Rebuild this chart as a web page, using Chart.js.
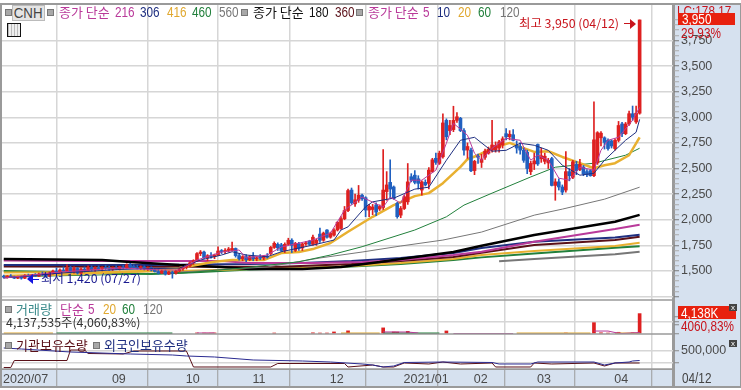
<!DOCTYPE html>
<html>
<head>
<meta charset="utf-8">
<title>CNH</title>
<script src="https://cdn.jsdelivr.net/npm/chart.js@4/dist/chart.umd.min.js"></script>
<style>
  html, body { margin: 0; padding: 0; background: #fff; overflow: hidden; }
  #wrap { position: relative; width: 741px; height: 390px; font: 14px "Liberation Sans", "Noto Sans CJK KR", sans-serif; }
  #wrap span, #wrap i { position: absolute; white-space: pre; line-height: 14px; font-style: normal; font-weight: normal; }
  .n { transform: scaleX(.84); transform-origin: left center; }
  .ko { font-family: "Noto Sans CJK KR", sans-serif; font-size: 13px; }
  .note { font-size: 12.4px; }
  .mark { width: 5px; height: 5px; background: #a8a8a8; border: 1px solid #777; }
  .box { background: #e8210f; color: #fff; }
  .boxtext { color: #fff; }
</style>
</head>
<body>
<div id="wrap">
  <canvas id="stockChart" width="741" height="390"></canvas>

  <i class="mark" style="left:5px;top:9px"></i>
  <span style="left:12px;top:5px;width:31px;height:14px;background:#e4e4e4;border:1px solid #bbb;text-align:center;color:#444"><b style="font-weight:normal;display:inline-block;transform:scaleX(.95)">CNH</b></span>
  <i class="mark" style="left:47px;top:9px"></i>
  <span class="ko" style="left:59px;top:5px;color:#b93a9a">종가 단순</span>
  <span class="n" style="left:115px;top:5px;color:#b93a9a">216</span>
  <span class="n" style="left:140px;top:5px;color:#1f2f80">306</span>
  <span class="n" style="left:167px;top:5px;color:#e0a830">416</span>
  <span class="n" style="left:192px;top:5px;color:#22803c">460</span>
  <span class="n" style="left:219px;top:5px;color:#777">560</span>
  <i class="mark" style="left:241px;top:9px"></i>
  <span class="ko" style="left:253px;top:5px;color:#111">종가 단순</span>
  <span class="n" style="left:309px;top:5px;color:#111">180</span>
  <span class="n" style="left:335px;top:5px;color:#5a1018">360</span>
  <i class="mark" style="left:356px;top:9px"></i>
  <span class="ko" style="left:368px;top:5px;color:#b93a9a">종가 단순</span>
  <span class="n" style="left:423px;top:5px;color:#b93a9a">5</span>
  <span class="n" style="left:437px;top:5px;color:#1f2f80">10</span>
  <span class="n" style="left:458px;top:5px;color:#e0a830">20</span>
  <span class="n" style="left:478px;top:5px;color:#22803c">60</span>
  <span class="n" style="left:500px;top:5px;color:#777">120</span>
  <i style="left:7px;top:23px;width:12px;height:12px;border:1px solid #111;background:repeating-linear-gradient(90deg,#bbb 0 1px,#eee 1px 3px)"></i>

  <span class="ko note" style="left:519px;top:16px;color:#c8141c">최고 3,950 (04/12)</span>
  <i style="left:624px;top:23px;width:6px;height:1px;background:#c8141c"></i>
  <i style="left:630px;top:19px;border-left:6px solid #c8141c;border-top:5px solid transparent;border-bottom:5px solid transparent"></i>
  <i style="left:27px;top:274px;border-right:6px solid #1414e0;border-top:5px solid transparent;border-bottom:5px solid transparent"></i>
  <i style="left:33px;top:279px;width:6px;height:1px;background:#1414e0"></i>
  <span class="ko note" style="left:41px;top:271px;color:#1a1a90">최저 1,420 (07/27)</span>

  <span class="n" style="left:677px;top:4px;color:#c8141c">LC:178.17</span>
  <i class="box" style="left:678px;top:13px;width:57px;height:12px"></i>
  <span class="n boxtext" style="left:682px;top:12px">3,950</span>
  <span class="n" style="left:681px;top:26px;color:#c8141c">29.93%</span>

  <i class="mark" style="left:5px;top:306px"></i>
  <span class="ko" style="left:16px;top:302px;color:#3a8a8a">거래량</span>
  <span class="ko" style="left:60px;top:302px;color:#b93a9a">단순</span>
  <span class="n" style="left:88px;top:302px;color:#b93a9a">5</span>
  <span class="n" style="left:103px;top:302px;color:#e0a830">20</span>
  <span class="n" style="left:122px;top:302px;color:#22803c">60</span>
  <span class="n" style="left:143px;top:302px;color:#777">120</span>
  <span class="ko note" style="left:6px;top:315px;color:#333">4,137,535주(4,060,83%)</span>
  <i class="box" style="left:678px;top:306px;width:58px;height:13px"></i>
  <span class="n boxtext" style="left:681px;top:306px">4,138K</span>
  <span class="n" style="left:681px;top:319px;color:#c8141c">4060,83%</span>
  <span style="left:729px;top:304px;width:8px;height:7px;line-height:7px;font-size:8px;text-align:center;background:#444;color:#fff">x</span>

  <i class="mark" style="left:5px;top:342px"></i>
  <span class="ko" style="left:16px;top:338px;color:#5a1018">기관보유수량</span>
  <i class="mark" style="left:93px;top:342px"></i>
  <span class="ko" style="left:104px;top:338px;color:#1f2f80">외국인보유수량</span>
  <span style="left:729px;top:340px;width:8px;height:7px;line-height:7px;font-size:8px;text-align:center;background:#444;color:#fff">x</span>

  <span class="n" style="left:682px;top:371px;color:#444">04/12</span>
</div>

<script>
// daily candles, 2020/07 .. 2021/04/12
const opens = [
  1450,1440,1450,1440,1430,1445,1430,1455,1445,1460,
  1450,1470,1460,1450,1480,1500,1490,1510,1500,1530,
  1490,1525,1480,1520,1500,1535,1510,1530,1520,1535,
  1525,1515,1530,1520,1540,1530,1560,1540,1535,1525,
  1540,1520,1530,1510,1495,1480,1500,1470,1490,1480,
  1500,1520,1535,1550,1580,1600,1670,1685,1630,1650,
  1640,1655,1695,1690,1700,1700,1720,1650,1620,1640,
  1610,1640,1620,1630,1625,1645,1670,1730,1760,1755,
  1700,1760,1800,1700,1765,1725,1765,1790,1760,1770,
  1860,1800,1900,1830,1850,1900,1915,2010,2090,2290,
  2155,2190,2240,2215,2095,2100,2145,2105,2120,2275,
  2365,2320,2160,2045,2110,2175,2420,2435,2400,2290,
  2365,2355,2470,2600,2550,2615,2970,2870,2880,2970,
  2990,2870,2680,2680,2480,2620,2560,2610,2650,2680,
  2680,2700,2730,2840,2810,2830,2725,2715,2680,2660,
  2470,2545,2735,2595,2570,2555,2597,2335,2370,2320,
  2290,2470,2415,2540,2490,2515,2470,2480,2430,2555,
  2800,2800,2775,2770,2695,2775,2935,2840,2935,3035,
  2955,3040
];
const highs = [
  1460,1455,1465,1450,1450,1450,1465,1470,1465,1475,
  1480,1490,1480,1490,1510,1530,1520,1540,1560,1545,
  1540,1535,1530,1540,1550,1550,1540,1550,1540,1555,
  1545,1540,1550,1545,1555,1570,1575,1560,1555,1550,
  1550,1540,1540,1525,1515,1510,1510,1500,1500,1510,
  1530,1545,1560,1590,1610,1680,1700,1695,1660,1680,
  1665,1735,1710,1720,1730,1782,1725,1670,1650,1660,
  1650,1680,1640,1660,1650,1670,1740,1785,1775,1770,
  1775,1820,1815,1780,1780,1775,1790,1800,1850,1810,
  1920,1880,1905,1880,1915,1985,2030,2130,2300,2310,
  2250,2335,2250,2225,2150,2150,2165,2145,2685,2470,
  2585,2330,2170,2130,2240,2549,2450,2480,2430,2380,
  2390,2510,2600,2650,2670,3035,2985,2970,3108,3045,
  3000,2890,2750,2700,2580,2640,2640,2690,2710,2970,
  2760,2775,2810,2890,2870,2880,2770,2750,2700,2680,
  2570,2650,2740,2700,2650,2600,2610,2400,2400,2340,
  2665,2500,2580,2570,2590,2530,2490,2490,3150,2860,
  2860,2810,2790,2780,2790,2960,2950,2950,3060,3110,
  3110,3950
];
const lows = [
  1430,1430,1435,1425,1425,1420,1425,1440,1435,1445,
  1445,1455,1440,1445,1470,1480,1475,1495,1490,1480,
  1480,1470,1470,1490,1495,1500,1495,1510,1500,1515,
  1505,1505,1515,1510,1520,1525,1530,1530,1520,1515,
  1510,1505,1500,1490,1470,1475,1460,1465,1430,1470,
  1490,1505,1520,1540,1565,1590,1650,1620,1600,1625,
  1620,1650,1670,1670,1685,1695,1635,1605,1600,1590,
  1600,1600,1600,1610,1610,1625,1660,1720,1700,1690,
  1680,1750,1680,1690,1700,1700,1750,1750,1750,1750,
  1780,1790,1820,1820,1840,1890,1905,2000,2080,2150,
  2130,2170,2190,2030,2030,2050,2040,2090,2100,2190,
  2210,2200,2015,2020,2100,2150,2370,2350,2300,2240,
  2330,2300,2460,2540,2540,2600,2780,2830,2860,2950,
  2860,2630,2600,2470,2440,2550,2510,2590,2640,2660,
  2660,2660,2700,2780,2780,2770,2650,2640,2560,2450,
  2440,2490,2530,2560,2545,2500,2330,2190,2290,2245,
  2270,2380,2400,2440,2480,2430,2420,2425,2420,2540,
  2720,2690,2680,2700,2680,2760,2810,2830,2920,2970,
  2940,3030
];
const closes = [
  1440,1450,1440,1430,1445,1430,1455,1445,1460,1450,
  1470,1460,1450,1480,1500,1490,1510,1500,1530,1490,
  1525,1480,1520,1500,1535,1510,1530,1520,1535,1525,
  1515,1530,1520,1540,1530,1560,1540,1535,1525,1540,
  1520,1530,1510,1495,1480,1500,1470,1490,1480,1500,
  1520,1535,1550,1580,1600,1670,1685,1630,1650,1640,
  1655,1695,1690,1700,1715,1720,1650,1620,1640,1610,
  1640,1620,1630,1625,1645,1635,1730,1770,1725,1700,
  1760,1800,1750,1770,1720,1765,1775,1760,1830,1800,
  1800,1870,1830,1870,1900,1975,2010,2090,2285,2165,
  2195,2240,2205,2095,2130,2125,2075,2130,2290,2340,
  2300,2205,2030,2110,2225,2370,2385,2365,2355,2370,
  2340,2485,2585,2560,2650,2945,2810,2920,2970,3005,
  2870,2680,2715,2478,2570,2610,2590,2670,2690,2730,
  2725,2760,2790,2810,2835,2775,2700,2680,2580,2500,
  2550,2575,2545,2625,2620,2580,2335,2370,2320,2270,
  2470,2430,2565,2480,2540,2450,2440,2430,2780,2850,
  2845,2755,2695,2720,2775,2920,2840,2935,3035,3000,
  3040,3950
];

// moving averages as [day, value] at the turning points
const ma5 = [[0,1432],[16,1490],[33,1529],[45,1510],[50,1510],[55,1607],[62,1685],[67,1705],[69,1627],[75,1656],[79,1734],[88,1802],[93,1870],[97,2094],[102,2221],[105,2172],[108,2123],[110,2221],[113,2162],[116,2386],[119,2386],[123,2484],[126,2747],[128,2942],[132,2825],[134,2649],[136,2581],[139,2698],[143,2795],[147,2776],[150,2581],[152,2630],[155,2581],[158,2406],[161,2386],[164,2513],[168,2484],[170,2678],[172,2776],[175,2805],[179,2971],[181,3097]];
const ma10 = [[0,1432],[16,1480],[33,1515],[50,1529],[56,1607],[62,1656],[65,1688],[69,1656],[75,1639],[79,1688],[88,1753],[94,1802],[96,1900],[98,1931],[103,2126],[105,2175],[111,2211],[117,2299],[121,2318],[126,2581],[130,2776],[134,2805],[139,2669],[143,2678],[147,2747],[151,2727],[155,2678],[159,2532],[164,2435],[168,2454],[171,2581],[177,2776],[180,2854],[181,2980]];
const ma20 = [[0,1451],[20,1471],[40,1500],[50,1529],[60,1590],[65,1607],[74,1607],[79,1675],[84,1685],[88,1714],[93,1773],[98,1883],[105,2029],[111,2143],[117,2231],[121,2260],[125,2357],[130,2516],[132,2591],[135,2630],[139,2698],[144,2750],[147,2711],[151,2662],[155,2669],[159,2613],[163,2565],[168,2503],[171,2532],[174,2552],[178,2630],[181,2805]];
const ma60 = [[0,1442],[50,1478],[68,1529],[84,1590],[93,1656],[102,1737],[117,1900],[126,2029],[131,2143],[139,2260],[150,2418],[157,2513],[168,2552],[177,2630],[181,2698]];
const ma120 = [[50,1490],[75,1539],[90,1627],[102,1685],[113,1744],[125,1802],[136,1880],[151,2045],[159,2104],[171,2201],[181,2318]];
const ma180 = [[0,1617],[28,1607],[36,1588],[50,1558],[62,1539],[70,1519],[85,1519],[96,1539],[107,1588],[113,1617],[128,1685],[136,1746],[151,1851],[174,1980],[181,2048]];
const ma216 = [[0,1602],[28,1597],[50,1597],[62,1597],[70,1578],[88,1578],[102,1588],[113,1607],[128,1656],[136,1688],[151,1785],[174,1909],[181,1951]];
const ma306 = [[0,1558],[42,1558],[70,1568],[85,1578],[99,1597],[113,1627],[128,1675],[136,1724],[151,1785],[174,1828],[181,1854]];
const ma360 = [[0,1544],[42,1542],[79,1542],[99,1568],[113,1597],[128,1636],[136,1678],[151,1753],[174,1802],[181,1834]];
const ma416 = [[0,1485],[28,1490],[50,1500],[70,1519],[85,1529],[99,1549],[113,1578],[128,1617],[136,1656],[151,1695],[174,1743],[181,1776]];
const ma460 = [[0,1500],[42,1471],[56,1490],[70,1515],[85,1529],[99,1544],[113,1568],[128,1607],[136,1633],[151,1672],[174,1727],[181,1741]];
const ma560 = [[141,1594],[151,1617],[174,1663],[181,1688]];

// volume in thousands, only the bars tall enough to read
const volumes = [[55,220],[57,200],[58,180],[59,200],[60,220],[77,200],[88,240],[90,200],[92,200],[94,420],[98,640],[108,1240],[111,420],[112,400],[115,540],[126,620],[160,200],[168,2300],[170,250],[172,200],[175,350],[179,250],[181,4138]];
const volMa5 = [[55,200],[60,200],[61,null],[108,420],[115,400],[118,200],[119,null],[128,100],[145,100],[146,null],[168,600],[172,600],[174,300],[176,100],[181,300]];
const volMa20 = [[0,100],[14,100],[15,null],[96,100],[107,100],[108,null],[146,100],[167,100],[168,null],[174,100],[181,100]];
const volMa60 = [[15,100],[48,100],[49,null],[108,100],[124,100]];

// holding quantities as [day, shares]
const institutionHold = [[0,156300],[2,156300],[3,302000],[18,302000],[19,520800],[23,520800],[24,448000],[34,437500],[37,500000],[52,500000],[54,166700],[76,166700],[78,239600],[97,239600],[98,166700],[105,208300],[108,166700],[111,166700],[114,250000],[121,229200],[125,270800],[130,229200],[139,250000],[140,166700],[150,166700],[151,250000],[156,229200],[168,250000],[171,187500],[174,250000],[181,250000]];
const foreignHold = [[0,562500],[5,541700],[19,479200],[36,437500],[48,416700],[52,395800],[60,375000],[71,312500],[85,291700],[93,270800],[102,229200],[105,208300],[108,166700],[111,187500],[114,260400],[125,270800],[139,260400],[141,229200],[150,229200],[152,270800],[168,270800],[171,208300],[174,250000],[178,270800],[179,291700],[181,302000]];

const priceTickLabels = [1500, 1750, 2000, 2250, 2500, 2750, 3000, 3250, 3500, 3750];
// month gridlines sit between the last and first trading day of a month
const monthDays = [-0.5, 30.5, 51.5, 70.5, 92.5, 113.5, 133.5, 151.5, 173.5];
const monthLabels = ['2020/07', '09', '10', '11', '12', '2021/01', '02', '03', '04'];
const holdTickLabels = [250000, 500000];

const CANDLE_SLOTS = 191; // the last few are the blank space right of 04/12
const days = Array.from({ length: CANDLE_SLOTS }, (_, i) => i);
const UP = '#de2020', DOWN = '#2060c0';
const GRID = '#d6d6d6', FRAME = '#9a9a9a', TICK_TEXT = '#4a4a4a';
const BAND = '#d6e1ef';
const FONT = '"Liberation Sans", sans-serif';
const TICK_SIZE = 12.5;

const toPoints = pairs => pairs.map(p => ({ x: p[0], y: p[1] }));
const candleColor = closes.map((c, i) => (c >= opens[i] ? UP : DOWN));

function lineSet(label, pairs, color, width, axis, order) {
    return {
        type: 'line', label, data: toPoints(pairs), yAxisID: axis, order,
        borderColor: color, borderWidth: width, pointRadius: 0, tension: 0,
        borderJoinStyle: 'bevel', borderCapStyle: 'butt'
    };
}

// keep the top label from pushing the plot area down
function fitRightAxis(s) {
    s.width = 68;
    s.paddingTop = 0;
    s.paddingBottom = 0;
}

// white panels, blue axis bands and the frame between panels
const panelFrame = {
    id: 'panelFrame',
    beforeDraw(chart) {
        const { ctx, chartArea: a, scales } = chart;
        const top = a.top - 1, h = scales.x.bottom - top;
        ctx.save();
        ctx.fillStyle = BAND;
        ctx.fillRect(a.right, top, chart.width - a.right, a.bottom - top);
        ctx.fillRect(0, a.bottom, chart.width, scales.x.bottom - a.bottom);
        ctx.strokeStyle = FRAME;
        ctx.lineWidth = 2;
        ctx.strokeRect(1, top, a.right, h);
        ctx.strokeRect(a.right, top, chart.width - a.right, h);
        ctx.restore();
    },
    afterDatasetsDraw(chart) {
        const { ctx, chartArea: a, scales } = chart;
        ctx.save();
        ctx.strokeStyle = FRAME;
        ctx.lineWidth = 1.5;
        ctx.beginPath();
        [scales.y.bottom, scales.yVol.bottom, scales.yHold.bottom].forEach(y => {
            ctx.moveTo(a.left, y);
            ctx.lineTo(a.right, y);
        });
        ctx.stroke();
        ctx.restore();
    }
};

const stockChart = new Chart(document.getElementById('stockChart'), {
    data: {
        labels: days,
        datasets: [
            lineSet('560', ma560, '#777777', 2, 'y', 20),
            lineSet('460', ma460, '#22803c', 2, 'y', 19),
            lineSet('416', ma416, '#e8b030', 2, 'y', 18),
            lineSet('360', ma360, '#5a1018', 2, 'y', 17),
            lineSet('306', ma306, '#1f2f80', 2, 'y', 16),
            lineSet('216', ma216, '#b93a9a', 2, 'y', 15),
            lineSet('180', ma180, '#000000', 2.5, 'y', 14),
            lineSet('120', ma120, '#777777', 1, 'y', 13),
            lineSet('60', ma60, '#22803c', 1, 'y', 12),
            lineSet('20', ma20, '#e8b030', 2.5, 'y', 11),
            {
                type: 'bar', label: 'wick', yAxisID: 'y', order: 10, grouped: false,
                data: highs.map((h, i) => [lows[i], h]),
                backgroundColor: candleColor, barThickness: 1
            },
            {
                type: 'bar', label: 'body', yAxisID: 'y', order: 9, grouped: false,
                data: opens.map((o, i) => [o, closes[i]]),
                backgroundColor: candleColor, barThickness: 3, minBarLength: 1
            },
            lineSet('10', ma10, '#1f2f80', 1, 'y', 8),
            lineSet('5', ma5, '#b93a9a', 1, 'y', 7),
            {
                type: 'bar', label: 'volume', yAxisID: 'yVol', order: 6, grouped: false,
                data: toPoints(volumes), backgroundColor: UP, barThickness: 3
            },
            lineSet('vol 60', volMa60, '#22803c', 2, 'yVol', 5),
            lineSet('vol 20', volMa20, '#e0a830', 2, 'yVol', 4),
            lineSet('vol 5', volMa5, '#b93a9a', 1, 'yVol', 3),
            lineSet('기관보유수량', institutionHold, '#5a1018', 1, 'yHold', 2),
            lineSet('외국인보유수량', foreignHold, '#2a2a90', 1, 'yHold', 1)
        ]
    },
    options: {
        responsive: false,
        animation: false,
        layout: { padding: { left: 2, top: 5, bottom: 3 } },
        plugins: { legend: { display: false }, tooltip: { enabled: false } },
        scales: {
            x: {
                type: 'category',
                offset: true,
                afterBuildTicks: s => { s.ticks = monthDays.map(v => ({ value: v })); },
                afterFit: s => { s.height = 18; s.paddingLeft = 0; s.paddingRight = 0; },
                grid: { color: GRID, lineWidth: 1.5, tickLength: 18, tickColor: FRAME, tickWidth: 1 },
                border: { color: FRAME },
                ticks: {
                    autoSkip: false, maxRotation: 0, align: 'start', padding: -15, labelOffset: 1,
                    color: TICK_TEXT, font: { family: FONT, size: TICK_SIZE },
                    callback: (v, i) => monthLabels[i]
                }
            },
            y: {
                position: 'right', stack: 'panels', stackWeight: 295,
                min: 1217, max: 4096,
                afterFit: fitRightAxis,
                afterBuildTicks: s => {
                    const t = [];
                    for (let v = 1250; v <= 3950; v += 50) t.push({ value: v });
                    s.ticks = t;
                },
                grid: {
                    tickLength: 6, lineWidth: 1.5,
                    color: c => (c.tick && c.tick.value % 250 === 0 && c.tick.value <= 3750 ? GRID : 'transparent'),
                    tickColor: c => (c.tick && c.tick.value % 250 === 0 ? '#777' : '#aaa'),
                    tickWidth: 1
                },
                border: { color: FRAME },
                ticks: {
                    autoSkip: false, padding: 2, color: TICK_TEXT, font: { family: FONT, size: TICK_SIZE },
                    callback: v => (priceTickLabels.includes(v) ? v.toLocaleString('en-US') : '')
                }
            },
            yVol: {
                position: 'right', stack: 'panels', stackWeight: 34,
                min: 0, max: 6900,
                afterFit: fitRightAxis,
                afterBuildTicks: s => { s.ticks = [0, 1800, 2400, 3600].map(v => ({ value: v })); },
                grid: {
                    tickLength: 6, lineWidth: 1.5,
                    color: c => (c.tick && c.tick.value === 2400 ? GRID : 'transparent'),
                    tickColor: '#888', tickWidth: 1
                },
                border: { color: FRAME },
                ticks: { autoSkip: false, callback: () => '' }
            },
            yHold: {
                position: 'right', stack: 'panels', stackWeight: 35,
                min: 125000, max: 854000,
                afterFit: fitRightAxis,
                afterBuildTicks: s => { s.ticks = holdTickLabels.map(v => ({ value: v })); },
                grid: { tickLength: 6, lineWidth: 1.5, color: GRID, tickColor: '#888', tickWidth: 1 },
                border: { color: FRAME },
                ticks: {
                    autoSkip: false, padding: 2, color: TICK_TEXT, font: { family: FONT, size: TICK_SIZE },
                    callback: v => (v === 500000 ? v.toLocaleString('en-US') : '')
                }
            }
        }
    },
    plugins: [panelFrame]
});
</script>
</body>
</html>
